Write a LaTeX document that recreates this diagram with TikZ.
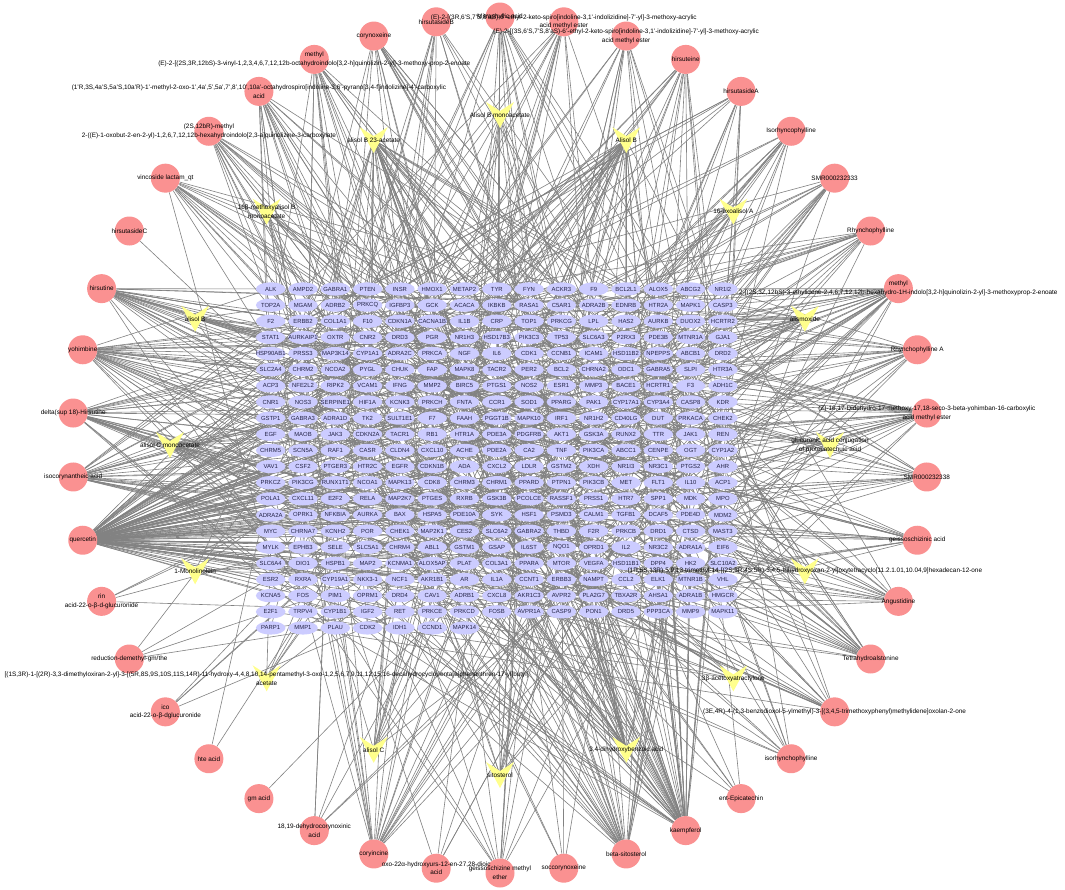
\documentclass[tikz,border=0pt]{standalone}
\usepackage{fontspec}
\setmainfont{Liberation Sans}
\usetikzlibrary{shapes.geometric}
\pgfdeclarelayer{bg}
\pgfdeclarelayer{edges}
\pgfsetlayers{bg,edges,main}
\definecolor{genefill}{RGB}{204,204,255}
\definecolor{genetext}{RGB}{35,35,70}
\definecolor{compfill}{RGB}{250,145,145}
\definecolor{vfill}{RGB}{255,255,140}
\definecolor{edgecol}{RGB}{130,130,130}
\begin{document}
\begin{tikzpicture}[x=1pt,y=-1pt,
  genetxt/.style={inner sep=0pt, font=\fontsize{5.9}{6}\selectfont, text=genetext},
  comp/.style={circle, fill=compfill, minimum size=29pt, inner sep=0pt},
  lab/.style={font=\fontsize{6.4}{8.8}\selectfont, align=center, inner sep=0pt, text=black},
  edge/.style={draw=edgecol, line width=0.6pt}]
\begin{pgfonlayer}{bg}
\fill[white] (0,0) rectangle (1065,889);
\end{pgfonlayer}
\useasboundingbox (0,0) rectangle (1065,889);

% ---------- target grid ----------
\foreach \name [count=\i from 0] in {
ALK,AMPD2,GABRA1,PTEN,INSR,HMOX1,METAP2,TYR,FYN,ACKR3,F9,BCL2L1,ALOX5,ABCG2,NR1I2,
TOP2A,MGAM,ADRB2,PRKCQ,IGFBP3,GCK,ACACA,IKBKB,RASA1,C5AR1,ADRA2B,EDNRB,HTR2A,MAPK1,CASP3,
F2,ERBB2,COL1A1,F10,CDKN1A,CACNA1B,IL1B,CRP,TOP1,PRKCG,LPL,HAS2,AURKB,DUOX2,HCRTR2,
STAT1,AURKAIP1,OXTR,CNR2,DRD3,PGR,NR1H3,HSD17B3,PIK3C3,TP53,SLC6A3,P2RX3,PDE3B,MTNR1A,GJA1,
HSP90AB1,PRSS3,MAP3K14,CYP1A1,ADRA2C,PRKCA,NGF,IL6,CDK1,CCNB1,ICAM1,HSD11B2,NPEPPS,ABCB1,DRD2,
SLC2A4,CHRM2,NCOA2,PYGL,CHUK,FAP,MAPK8,TACR2,PER2,BCL2,CHRNA2,ODC1,GABRA5,SLPI,HTR3A,
ACP3,NFE2L2,RIPK2,VCAM1,IFNG,MMP2,BIRC5,PTGS1,NOS2,ESR1,MMP3,BACE1,HCRTR1,F3,ADH1C,
CNR1,NOS3,SERPINE1,HIF1A,KCNK3,PRKCH,FNTA,CCR1,SOD1,PPARG,PAK1,CYP17A1,CYP3A4,CASP8,KDR,
GSTP1,GABRA3,ADRA1D,TK2,SULT1E1,F7,FAAH,PGGT1B,MAPK10,IRF1,NR1H2,CD40LG,DUT,PRKACA,CHEK2,
EGF,MAOB,JAK3,CDKN2A,TACR1,RB1,HTR1A,PDE3A,PDGFRB,AKT1,GSK3A,RUNX2,TTR,JAK1,REN,
CHRM5,SCN5A,RAF1,CASR,CLDN4,CXCL10,ACHE,PDE2A,CA2,TNF,PIK3CA,ABCC1,CENPE,OGT,CYP1A2,
VAV1,CSF2,PTGER3,HTR2C,EGFR,CDKN1B,ADA,CXCL2,LDLR,GSTM2,XDH,NR1I3,NR3C1,PTGS2,AHR,
PRKCZ,PIK3CG,RUNX1T1,NCOA1,MAPK13,CDK8,CHRM3,CHRM1,PPARD,PTPN1,PIK3CB,MET,FLT1,IL10,ACP1,
POLA1,CXCL11,E2F2,RELA,MAP2K7,PTGES,RXRB,GSK3B,PCOLCE,RASSF1,PRSS1,HTR7,SPP1,MDK,MPO,
ADRA2A,OPRK1,NFKBIA,AURKA,BAX,HSPA5,PDE10A,SYK,HSF1,PSMD3,CALM1,TGFB1,DCAF5,PDE4D,MDM2,
MYC,CHRNA7,KCNH2,POR,CHEK1,MAP2K1,CES2,SLC6A2,GABRA2,THBD,F2R,PRKCB,DRD1,CTSD,MAST3,
MYLK,EPHB3,SELE,SLC5A1,CHRM4,ABL1,GSTM1,GSAP,IL6ST,NQO1,OPRD1,IL2,NR3C2,ADRA1A,EIF6,
SLC6A4,DIO1,HSPB1,MAP2,KCNMA1,ALOX5AP,PLAT,COL3A1,PPARA,MTOR,VEGFA,HSD11B1,DPP4,HK2,SLC10A2,
ESR2,RXRA,CYP19A1,NKX3-1,NCF1,AKR1B1,AR,IL1A,CCNT1,ERBB3,NAMPT,CCL2,ELK1,MTNR1B,VHL,
KCNA5,FOS,PIM1,OPRM1,DRD4,CAV1,ADRB1,CXCL8,AKR1C3,AVPR2,PLA2G7,TBXA2R,AHSA1,ADRA1B,HMGCR,
E2F1,TRPV4,CYP1B1,IGF2,RET,PRKCE,PRKCD,FOSB,AVPR1A,CASP9,PON1,DRD5,PPP3CA,MMP9,MAPK11,
PARP1,MMP1,PLAU,CDK2,IDH1,CCND1,MAPK14}{
  \pgfmathtruncatemacro\r{int(\i/15)}
  \pgfmathtruncatemacro\c{mod(\i,15)}
  \pgfmathsetmacro\gx{270.7+32.3*\c}
  \pgfmathsetmacro\gy{289+16.14*\r}
  \fill[genefill] (\gx,\gy) ellipse [x radius=14.8pt, y radius=6.6pt];
  \node[genetxt] (g\i) at (\gx,\gy) {\name};
}

% ---------- compound circles ----------
\foreach \i in {0,...,41}{
  \pgfmathsetmacro\a{90-360/42*\i}
  \node[comp] (c\i) at ({500+428*cos(\a)},{445-428*sin(\a)}) {};
}

% ---------- herb V nodes ----------
\foreach \j in {0,...,15}{
  \pgfmathsetmacro\a{90-22.5*\j}
  \coordinate (v\j) at ({500+330*cos(\a)},{445-330*sin(\a)});
  \fill[vfill, shift={(v\j)}] (-14,-13) -- (0,-4) -- (14,-13) -- (0,13) -- cycle;
}

% ---------- edges ----------
\begin{pgfonlayer}{edges}
\pgfmathsetseed{3}
\foreach \s/\n in {c0/18,c1/14,c2/14,c3/16,c4/12,c5/14,c6/14,c7/16,c8/28,c9/20,
  c10/28,c11/16,c12/18,c13/16,c14/22,c15/16,c16/10,c17/6,c18/55,c19/30,
  c20/5,c21/12,c22/5,c23/22,c24/6,c25/1,c26/2,c27/4,c28/4,c29/4,
  c30/130,c31/28,c32/28,c33/35,c34/28,c35/1,c36/16,c37/16,c38/18,c39/18,c40/16,c41/12,
  v0/10,v1/35,v2/8,v3/20,v4/8,v5/10,v6/10,v7/25,v8/12,v9/12,v10/6,v11/5,v12/15,v13/10,v14/10,v15/35}{
  \foreach \k in {1,...,\n}{
    \pgfmathrandominteger{\t}{0}{321}
    \draw[edge] (\s) -- (g\t);
  }
}
\end{pgfonlayer}

% ---------- compound labels ----------
\node[lab] at (c0) {Mitraphyllic acid};
\node[lab] at (c1) {(E)-2-[(3R,6'S,7'S,8'aS)-6'-ethyl-2-keto-spiro[indoline-3,1'-indolizidine]-7'-yl]-3-methoxy-acrylic\\acid methyl ester};
\node[lab] at (c2) {(E)-2-[(3S,6'S,7'S,8'aS)-6'-ethyl-2-keto-spiro[indoline-3,1'-indolizidine]-7'-yl]-3-methoxy-acrylic\\acid methyl ester};
\node[lab] at (c3) {hirsuteine};
\node[lab] at (c4) {hirsutasideA};
\node[lab] at (c5) {Isorhyncophylline};
\node[lab] at (c6) {SMR000232333};
\node[lab] at (c7) {Rhynchophylline};
\node[lab] at (c8) {methyl\\2-[(2S,3Z,12bS)-3-ethylidene-2,4,6,7,12,12b-hexahydro-1H-indolo[3,2-h]quinolizin-2-yl]-3-methoxyprop-2-enoate};
\node[lab] at (c9) {Rhynchophylline A};
\node[lab] at (c10) {(Z)-16,17-Didehydro-17-methoxy-17,18-seco-3-beta-yohimban-16-carboxylic\\acid methyl ester};
\node[lab] at (c11) {SMR000232338};
\node[lab] at (c12) {geissoschizinic acid};
\node[lab] at (c13) {Angustidine};
\node[lab] at (c14) {Tetrahydroalstonine};
\node[lab] at (c15) {(3E,4R)-4-(1,3-benzodioxol-5-ylmethyl)-3-[(3,4,5-trimethoxyphenyl)methylidene]oxolan-2-one};
\node[lab] at (c16) {isorhynchophylline};
\node[lab] at (c17) {ent-Epicatechin};
\node[lab] at (c18) {kaempferol};
\node[lab] at (c19) {beta-sitosterol};
\node[lab] at (c20) {soccorynoxeine};
\node[lab] at (c21) {geissoschizine methyl\\ether};
\node[lab] at (c22) {oxo-22α-hydroxyurs-12-en-27,28-dioic\\acid};
\node[lab] at (c23) {coryincine};
\node[lab] at (c24) {18,19-dehydrocorynoxinic\\acid};
\node[lab] at (c25) {gm acid};
\node[lab] at (c26) {hte acid};
\node[lab] at (c27) {ico\\acid-22-o-β-dglucuronide};
\node[lab] at (c28) {reduction-demethyl-gm/the};
\node[lab] at (c29) {rin\\acid-22-o-β-d-glucuronide};
\node[lab] at (c30) {quercetin};
\node[lab] at (c31) {isocorynantheic acid};
\node[lab] at (c32) {delta(sup 18)-Hirsutine};
\node[lab] at (c33) {yohimbine};
\node[lab] at (c34) {hirsutine};
\node[lab] at (c35) {hirsutasideC};
\node[lab] at (c36) {vincoside lactam\_qt};
\node[lab] at (c37) {(2S,12bR)-methyl\\2-((E)-1-oxobut-2-en-2-yl)-1,2,6,7,12,12b-hexahydroindolo[2,3-a]quinolizine-3-carboxylate};
\node[lab] at (c38) {(1'R,3S,4a'S,5a'S,10a'R)-1'-methyl-2-oxo-1',4a',5',5a',7',8',10',10a'-octahydrospiro[indoline-3,6'-pyrano[3,4-f]indolizine]-4'-carboxylic\\acid};
\node[lab] at (c39) {methyl\\(E)-2-[(2S,3R,12bS)-3-vinyl-1,2,3,4,6,7,12,12b-octahydroindolo[3,2-h]quinolizin-2-yl]-3-methoxy-prop-2-enoate};
\node[lab] at (c40) {corynoxeine};
\node[lab] at (c41) {hirsutasideB};

% ---------- herb labels ----------
\node[lab] at (v0) {Alisol B monoacetate};
\node[lab] at (v1) {Alisol B};
\node[lab] at (v2) {16-oxoalisol A};
\node[lab] at (v3) {alismoxide};
\node[lab] at (v4) {glucuronic acid conjugation\\of protocatechuic acid};
\node[lab] at (v5) {(1R,5S,13R)-5,9,13-trimethyl-14-[(2S,3R,4S,5R)-3,4,5-trihydroxyoxan-2-yl]oxytetracyclo[11.2.1.01,10.04,9]hexadecan-12-one};
\node[lab] at (v6) {3β-acetoxyatractylone};
\node[lab] at (v7) {3,4-dihydroxybenzoic acid};
\node[lab] at (v8) {sitosterol};
\node[lab] at (v9) {alisol C};
\node[lab] at (v10) {[(1S,3R)-1-[(2R)-3,3-dimethyloxiran-2-yl]-3-[(5R,8S,9S,10S,11S,14R)-11-hydroxy-4,4,8,10,14-pentamethyl-3-oxo-1,2,5,6,7,9,11,12,15,16-decahydrocyclopenta[a]phenanthren-17-yl]butyl]\\acetate};
\node[lab] at (v11) {1-Monolinolein};
\node[lab] at (v12) {alisol C monoacetate};
\node[lab] at (v13) {alisol B};
\node[lab] at (v14) {16β-methoxyalisol B\\monoacetate};
\node[lab] at (v15) {alisol B 23-acetate};
\end{tikzpicture}
\end{document}
